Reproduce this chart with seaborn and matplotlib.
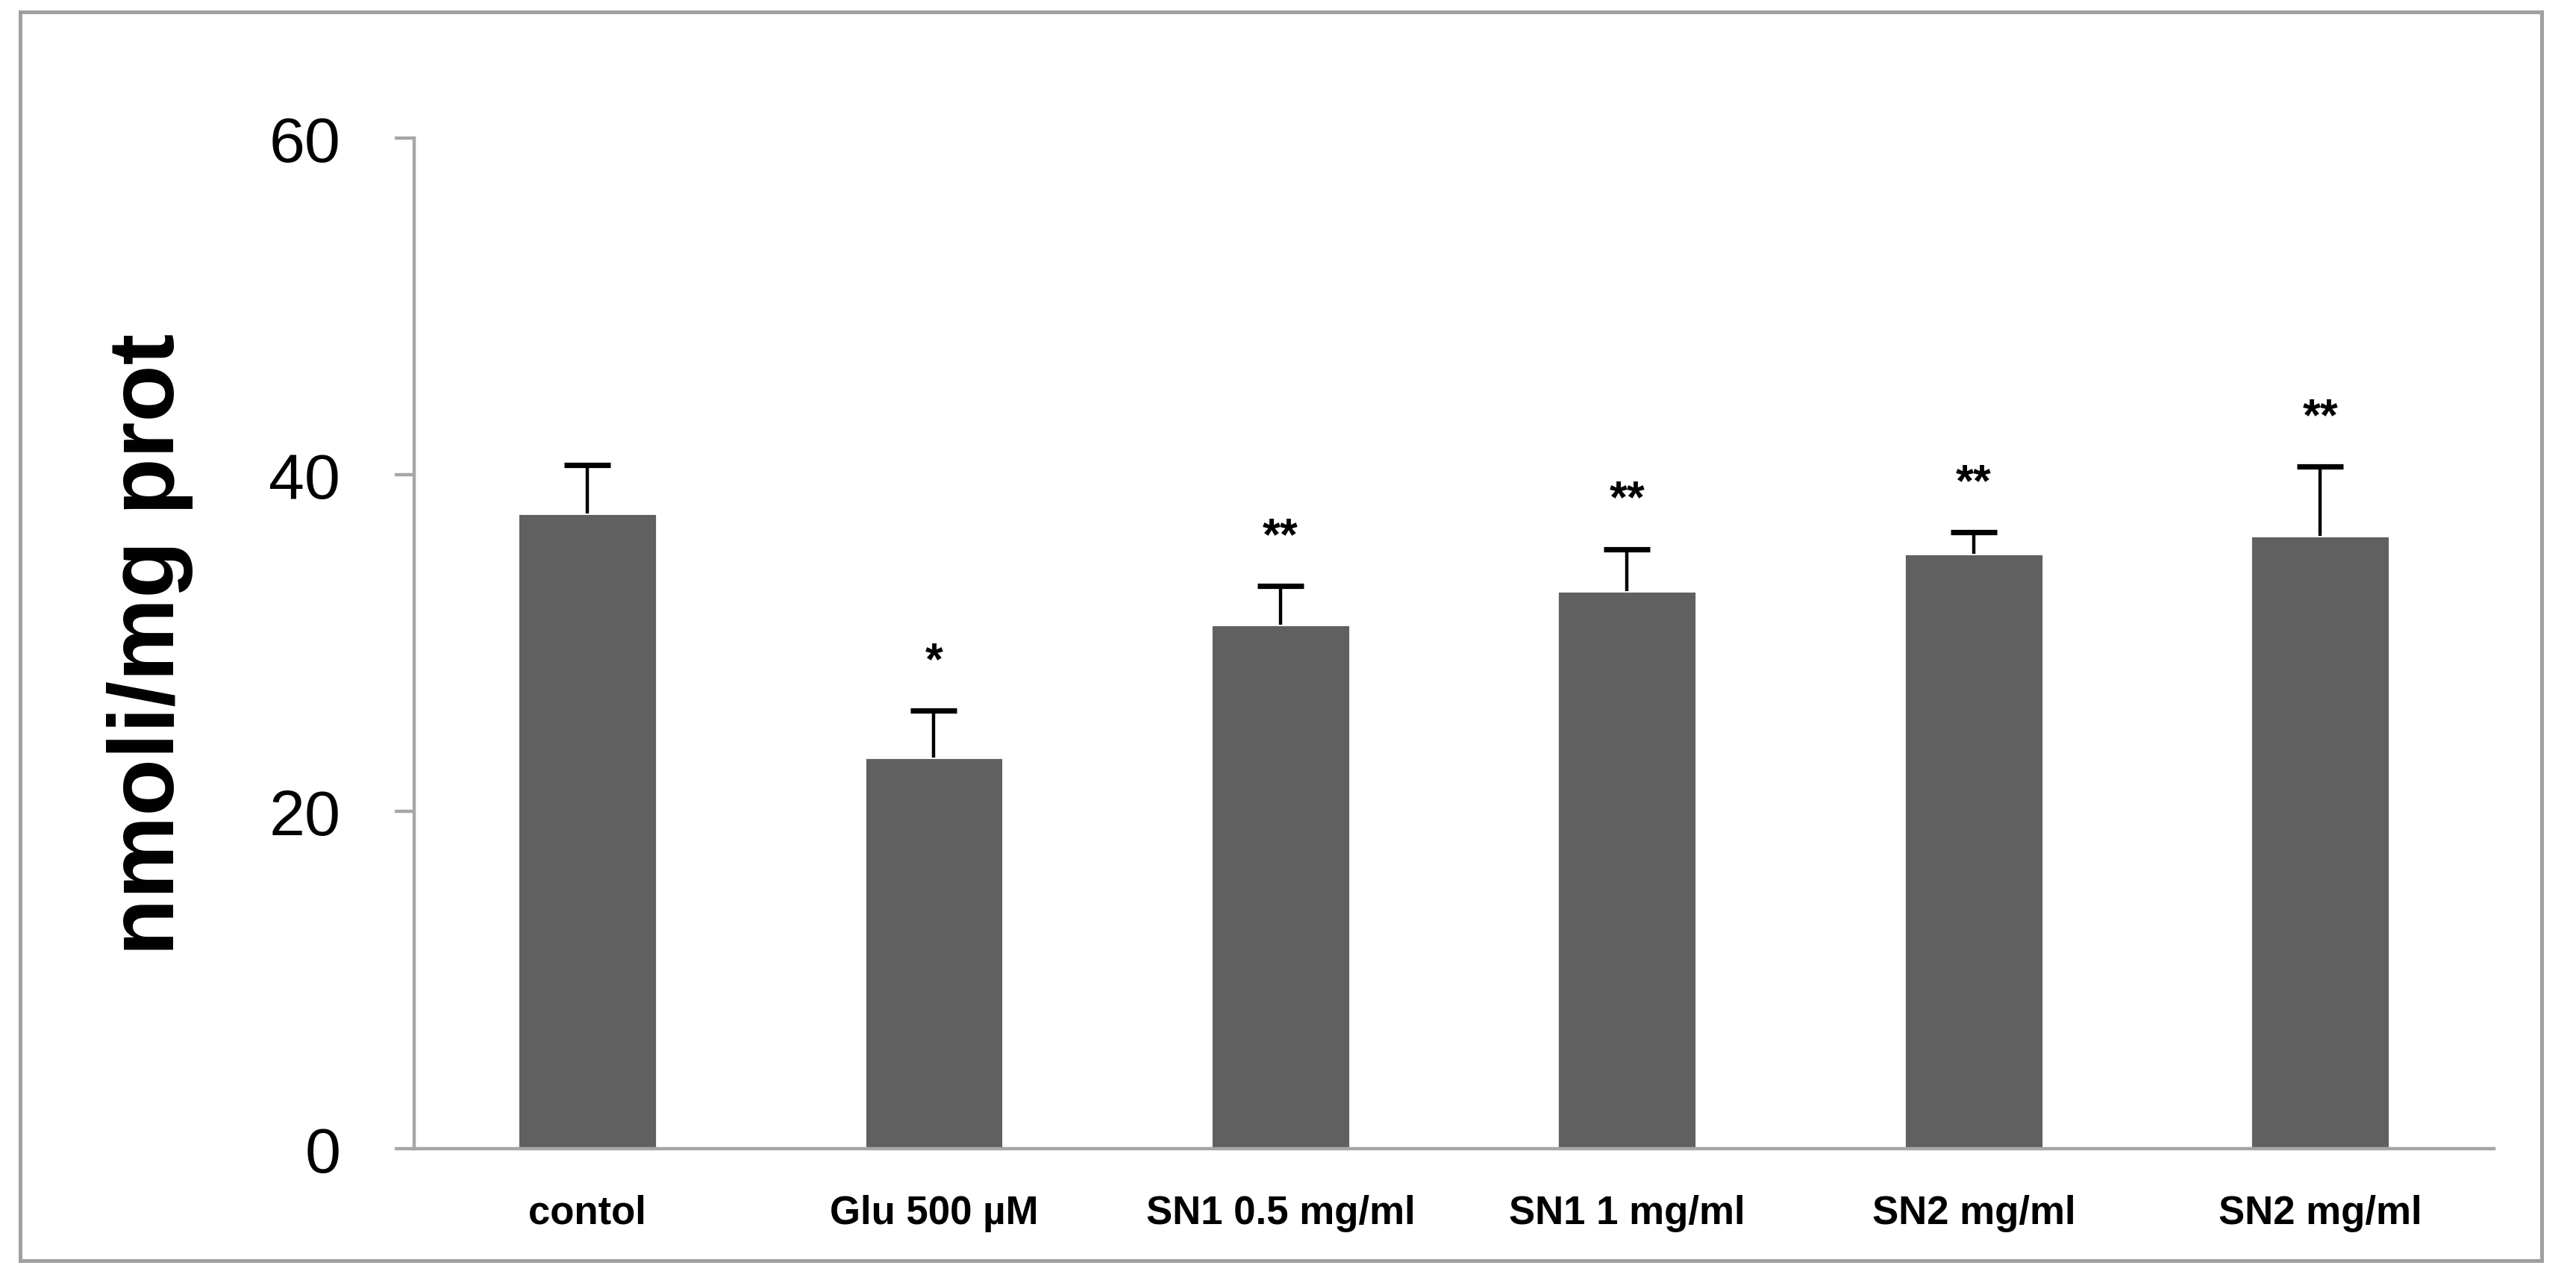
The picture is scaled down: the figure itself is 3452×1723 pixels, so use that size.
import numpy as np
import pandas as pd
import matplotlib
matplotlib.use("Agg")
import matplotlib.pyplot as plt
from matplotlib.patches import Rectangle
import seaborn as sns

# --- data ---
labels = ['contol', 'Glu 500 µM', 'SN1 0.5 mg/ml', 'SN1 1 mg/ml', 'SN2 mg/ml', 'SN2 mg/ml']
values = [37.7, 23.2, 31.1, 33.1, 35.3, 36.4]
errors = [2.9, 2.8, 2.3, 2.5, 1.3, 4.1]
stars = ['', '*', '**', '**', '**', '**']

df = pd.DataFrame({'pos': np.arange(len(labels)), 'value': values, 'err': errors})

sns.set_style('white')
plt.rcParams['font.family'] = ['Liberation Sans', 'DejaVu Sans']
plt.rcParams['text.color'] = 'black'

fig = plt.figure(figsize=(17.26, 8.62), dpi=200)
ax = fig.add_axes([0.1607, 0.107, 0.8073, 0.785])

sns.barplot(data=df, x='pos', y='value', color='#606060', width=0.4,
            errorbar=None, saturation=1, ax=ax)

# one-sided (upper) error bars, hide the lower cap
eb = ax.errorbar(df['pos'], df['value'], yerr=[np.zeros(len(errors)), df['err']],
                 fmt='none', ecolor='black', elinewidth=1.6, capsize=11, capthick=2.6, zorder=3)
eb[1][0].set_visible(False)

# significance stars above the error bars
for i, s in enumerate(stars):
    if s:
        ax.text(i, values[i] + errors[i] + 2.9, s, ha='center', va='center',
                fontsize=22, fontweight='bold', color='black')

ax.set_xlim(-0.5, len(labels) - 0.5)
ax.set_ylim(0, 60)
ax.set_yticks([0, 20, 40, 60])
ax.set_xticks(np.arange(len(labels)))
ax.set_xticklabels(labels, family=['Liberation Sans Narrow', 'Liberation Sans', 'DejaVu Sans'],
                   fontweight='bold', fontsize=19)
ax.tick_params(axis='y', labelsize=31, length=9.5, width=1.6, color='#a6a6a6', pad=26,
               left=True, labelcolor='black')
ax.tick_params(axis='x', length=0, pad=22, labelcolor='black')

ax.set_xlabel('')
ax.set_ylabel('nmoli/mg prot', fontsize=45, fontweight='bold', color='black')
ax.yaxis.set_label_coords(-0.106, 0.5)

for side in ['top', 'right']:
    ax.spines[side].set_visible(False)
for side in ['left', 'bottom']:
    ax.spines[side].set_color('#a6a6a6')
    ax.spines[side].set_linewidth(1.6)

# outer frame around the whole chart
fig.patches.append(Rectangle((0.0077, 0.02), 0.979, 0.97, transform=fig.transFigure,
                             fill=False, edgecolor='#a0a0a0', linewidth=1.8))

fig.savefig('out.png', dpi=200, facecolor='white')
